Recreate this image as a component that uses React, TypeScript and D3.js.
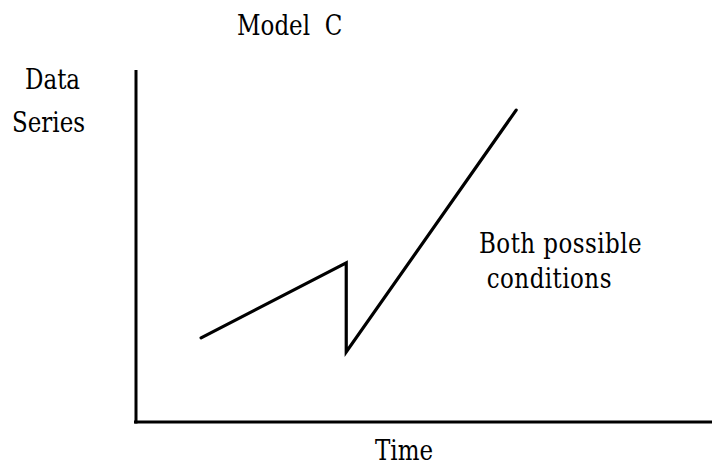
import React from 'react';
import * as d3 from 'd3';

const W = 712;
const H = 467;

// Sketch values (arbitrary units, 0-100 on both axes)
const timePoints = [11.3, 36.5, 36.5, 66.0];
const seriesValues = [23.9, 45.2, 19.9, 88.6];

const titleText = 'Model  C';
const yLabelLines = ['Data', 'Series'];
const xLabelText = 'Time';
const noteLines = ['Both possible', ' conditions'];

const margin = { left: 136, right: 0, top: 70, bottom: 45 };

const x = d3.scaleLinear().domain([0, 100]).range([margin.left, W - margin.right]);
const y = d3.scaleLinear().domain([0, 100]).range([H - margin.bottom, margin.top]);

const font = "'DejaVu Serif'";

// glyphs in the reference look a little taller than plain serif
const Label: React.FC<{ x: number; y: number; size?: number; spacing?: number; children: string }> = ({
  x,
  y,
  size = 23,
  spacing = 0,
  children,
}) => (
  <text
    transform={`translate(${x},${y}) scale(1,1.2)`}
    fill="#000"
    style={{ whiteSpace: 'pre', fontFamily: font, fontSize: size, letterSpacing: spacing }}
  >
    {children}
  </text>
);

export default function App() {
  const pts = timePoints.map((t, i) => [t, seriesValues[i]] as [number, number]);
  const line = d3
    .line<[number, number]>()
    .x((d) => x(d[0]))
    .y((d) => y(d[1]));

  return (
    <svg width={W} height={H} style={{ position: 'absolute', left: 0, top: 0, background: '#fff' }}>
      {/* axes */}
      <line x1={x(0)} x2={x(0)} y1={y(100)} y2={y(0) + 1.5} stroke="#000" strokeWidth={3} />
      <line x1={x(0) - 2} x2={x(100)} y1={y(0)} y2={y(0)} stroke="#000" strokeWidth={3} />

      <path d={line(pts) ?? ''} fill="none" stroke="#000" strokeWidth={3.2} strokeLinejoin="miter" strokeLinecap="round" />

      <Label x={237} y={35}>{titleText}</Label>
      <Label x={25} y={89}>{yLabelLines[0]}</Label>
      <Label x={12} y={132}>{yLabelLines[1]}</Label>
      <Label x={375} y={460}>{xLabelText}</Label>
      <Label x={479} y={253} spacing={0.45}>{noteLines[0]}</Label>
      <Label x={479} y={288} spacing={0.45}>{noteLines[1]}</Label>
    </svg>
  );
}
